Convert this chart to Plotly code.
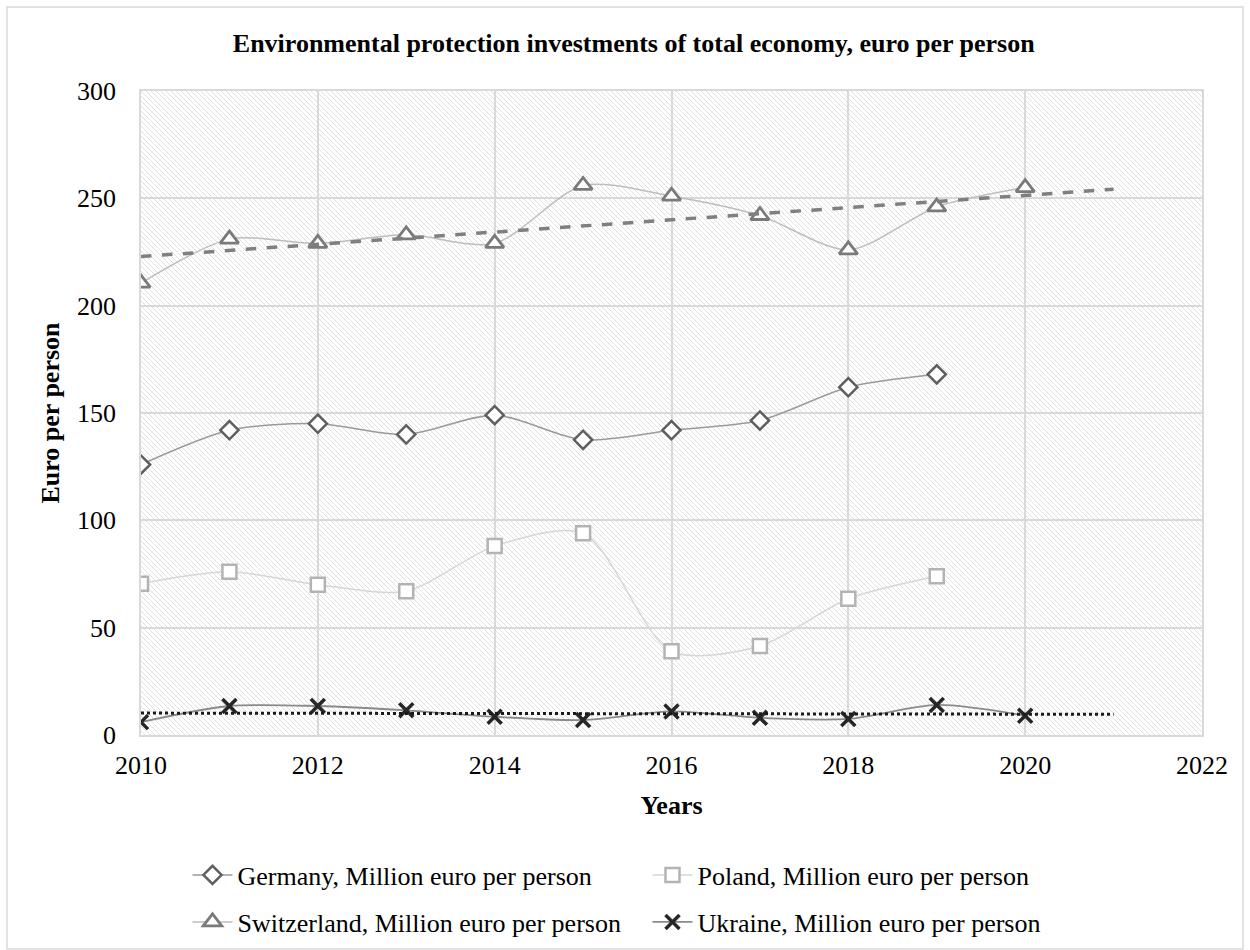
import base64
import numpy as np
import plotly.graph_objects as go

years = [2010, 2011, 2012, 2013, 2014, 2015, 2016, 2017, 2018, 2019, 2020]
germany = [126, 142, 145, 140, 149, 137.5, 142, 146.5, 162, 168]
poland = [70.5, 76, 70, 67, 88, 94, 39, 41.5, 63.5, 74]
switzerland = [210.5, 231, 229, 233, 229, 256, 251, 242, 226, 246, 255]
ukraine = [6, 13.5, 13.5, 11.5, 8.5, 7, 11, 8, 7.5, 14, 9]
trend_years = [2010, 2021]

FONT = "Liberation Serif"
FS = 26

fig = go.Figure()

def add_series(name, xs, ys, symbol, mcolor, lcolor, legend, lwidth=1.5, msize=13, mlw=2.5, fill="white"):
    fig.add_trace(go.Scatter(
        x=xs, y=ys, name=name, mode="lines+markers", legend=legend,
        line=dict(color=lcolor, width=lwidth, shape="spline", smoothing=0.8),
        marker=dict(symbol=symbol, size=msize, color=fill,
                    line=dict(color=mcolor, width=mlw)),
    ))

add_series("Germany, Million euro per person", years[:len(germany)], germany,
           "diamond", "#5f5f5f", "#9a9a9a", "legend", msize=14)
add_series("Poland, Million euro per person", years[:len(poland)], poland,
           "square", "#b3b3b3", "#d6d6d6", "legend", msize=14)
add_series("Switzerland, Million euro per person", years, switzerland,
           "triangle-up", "#7a7a7a", "#bdbdbd", "legend2", msize=16, mlw=2.8)
fig.add_trace(go.Scatter(
    x=years, y=ukraine, name="Ukraine, Million euro per person", mode="lines+markers",
    legend="legend2",
    line=dict(color="#8a8a8a", width=1.8, shape="spline", smoothing=0.8),
    marker=dict(symbol="x-thin", size=14, color="#262626",
                line=dict(color="#262626", width=3.5)),
))

# linear trendlines (least squares, extended one year)
def trend(ys):
    xs = np.array(years[:len(ys)], dtype=float)
    k, b = np.polyfit(xs, np.array(ys, dtype=float), 1)
    tx = np.array(trend_years, dtype=float)
    return tx, k * tx + b

tx, ty = trend(switzerland)
fig.add_trace(go.Scatter(x=tx, y=ty, mode="lines", showlegend=False, hoverinfo="skip",
                         line=dict(color="#7f7f7f", width=3.5, dash="dash")))
tx, ty = trend(ukraine)
fig.add_trace(go.Scatter(x=tx, y=ty, mode="lines", showlegend=False, hoverinfo="skip",
                         line=dict(color="#1a1a1a", width=3, dash="dot")))

# hatched plot background
svg = ('<svg xmlns="http://www.w3.org/2000/svg" width="1061" height="644">'
       '<defs><pattern id="p" width="5" height="5" patternUnits="userSpaceOnUse">'
       '<rect width="5" height="5" fill="white"/>'
       '<path d="M-1,-1 L6,6 M-1,4 L1,6 M4,-1 L6,1" stroke="#e0e0e0" stroke-width="1"/>'
       '</pattern></defs><rect width="1061" height="644" fill="url(#p)"/></svg>')
src = "data:image/svg+xml;base64," + base64.b64encode(svg.encode()).decode()
fig.add_layout_image(dict(source=src, xref="paper", yref="paper", x=0, y=1,
                          sizex=1, sizey=1, sizing="stretch", layer="below"))

L, R, T, B = 141, 48, 91, 215
W, H = 1250, 950
pw, ph = W - L - R, H - T - B
# outer chart border
fig.add_shape(type="rect", xref="paper", yref="paper",
              x0=(7 - L) / pw, x1=(1243 - L) / pw,
              y0=(H - 949 - B) / ph, y1=(H - 7 - B) / ph,
              line=dict(color="#d9d9d9", width=1.5), fillcolor="rgba(0,0,0,0)", layer="below")

legend_common = dict(orientation="h", xref="container", yref="container",
                     x=0.150, xanchor="left", yanchor="middle",
                     font=dict(size=FS, family=FONT), entrywidth=405,
                     entrywidthmode="pixels", itemwidth=40,
                     bgcolor="rgba(0,0,0,0)")

fig.update_layout(
    width=W, height=H,
    margin=dict(l=L, r=R, t=T, b=B, autoexpand=False),
    paper_bgcolor="white", plot_bgcolor="rgba(0,0,0,0)",
    font=dict(family=FONT, color="#000000", size=FS),
    title=dict(text="<b>Environmental protection investments of total economy, euro per person</b>",
               xref="container", yref="container",
               x=0.507, xanchor="center", y=1 - 43 / 950, yanchor="middle",
               font=dict(family=FONT, size=26, color="#000000")),
    xaxis=dict(range=[2010, 2022], dtick=2, tick0=2010, showgrid=True,
               gridcolor="#d9d9d9", gridwidth=1.5, zeroline=False,
               showline=True, linecolor="#d9d9d9", linewidth=1.5, mirror=True,
               ticks="", tickfont=dict(size=FS), ticklabelstandoff=6,
               title=dict(text="<b>Years</b>", font=dict(size=FS), standoff=17)),
    yaxis=dict(range=[0, 300], dtick=50, showgrid=True,
               gridcolor="#d9d9d9", gridwidth=1.5, zeroline=False,
               showline=True, linecolor="#d9d9d9", linewidth=1.5, mirror=True,
               ticks="", tickfont=dict(size=FS), ticklabelstandoff=18,
               title=dict(text="<b>Euro per person</b>", font=dict(size=FS), standoff=10)),
    legend=dict(legend_common, y=1 - 875 / 950),
    legend2=dict(legend_common, y=1 - 922 / 950),
    showlegend=True,
)

fig.write_html("out.html")
